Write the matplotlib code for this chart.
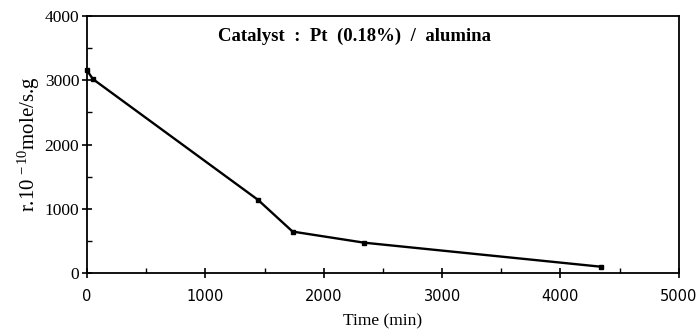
import matplotlib
matplotlib.use('Agg')
import matplotlib.pyplot as plt
from matplotlib.ticker import MultipleLocator

plt.rcParams['mathtext.fontset'] = 'custom'
plt.rcParams['mathtext.rm'] = 'Liberation Serif'
plt.rcParams['mathtext.it'] = 'Liberation Serif:italic'

# data
time_min = [0, 50, 1444, 1737, 2342, 4341]
rate = [3155, 3020, 1140, 645, 472, 98]

fig = plt.figure(figsize=(6.98, 3.36), dpi=100)
ax = fig.add_axes([0.1246, 0.1875, 0.848, 0.7645])

ax.plot(time_min, rate, color='black', lw=1.7, marker='s', ms=3.5,
        markerfacecolor='black', clip_on=False)

ax.set_xlim(0, 5000)
ax.set_ylim(0, 4000)
ax.xaxis.set_major_locator(MultipleLocator(1000))
ax.xaxis.set_minor_locator(MultipleLocator(500))
ax.yaxis.set_major_locator(MultipleLocator(1000))
ax.yaxis.set_minor_locator(MultipleLocator(500))
ax.tick_params(which='major', direction='inout', length=7, width=1.2)
ax.tick_params(which='minor', direction='in', length=3.5, width=1.0)
ax.tick_params(axis='x', pad=8)
ax.tick_params(axis='y', pad=2)

for sp in ax.spines.values():
    sp.set_linewidth(1.3)

for lab in ax.get_xticklabels():
    lab.set_fontfamily('DejaVu Sans')
    lab.set_fontsize(10.5)
for lab in ax.get_yticklabels():
    lab.set_fontfamily('Liberation Serif')
    lab.set_fontsize(12.5)

ax.set_xlabel('Time (min)', fontfamily='Liberation Serif', fontsize=12.5, labelpad=7)
ax.set_ylabel(r'r.10$^{\,-10}$mole/s.g', fontfamily='Liberation Serif', fontsize=15, labelpad=2)

ax.text(2263, 3690, 'Catalyst  :  Pt  (0.18%)  /  alumina', ha='center', va='center',
        fontfamily='Liberation Serif', fontweight='bold', fontsize=13.5)

fig.savefig('out.png', dpi=100)
